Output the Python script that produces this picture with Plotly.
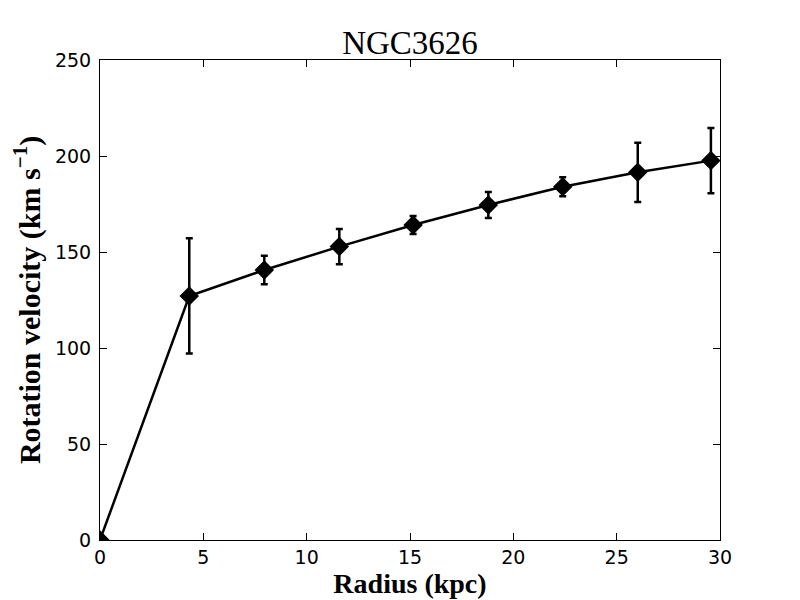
import plotly.graph_objects as go

radius = [0.0, 4.32, 7.95, 11.58, 15.15, 18.79, 22.39, 26.02, 29.56]
velocity = [0.0, 127.1, 140.6, 152.8, 164.1, 174.5, 184.0, 191.5, 197.6]
vel_err = [0.0, 30.0, 7.4, 9.2, 4.7, 6.8, 4.9, 15.4, 17.0]

x_ticks = [0, 5, 10, 15, 20, 25, 30]
y_ticks = [0, 50, 100, 150, 200, 250]

fig = go.Figure()
fig.add_trace(go.Scatter(
    x=radius, y=velocity,
    mode="lines+markers",
    line=dict(color="black", width=2.5),
    marker=dict(symbol="diamond", size=15, color="black"),
    error_y=dict(type="data", array=vel_err, visible=True, color="black", thickness=2.5, width=3.5),
    showlegend=False,
))

serif = "Liberation Serif, DejaVu Serif, serif"
fig.update_layout(
    width=800, height=600,
    paper_bgcolor="white", plot_bgcolor="white",
    margin=dict(l=92, r=88, t=52, b=68),
    title=dict(text="NGC3626", x=(92 + 310) / 800, xanchor="center", y=1 - 34/600, yanchor="middle",
               font=dict(family=serif, size=33, color="black")),
    font=dict(family="DejaVu Sans", size=19, color="black"),
)
axis_common = dict(
    showline=True, linecolor="black", linewidth=1, mirror="ticks",
    ticks="inside", ticklen=7, tickwidth=1, tickcolor="black",
    showgrid=False, zeroline=False, automargin=False,
    tickfont=dict(family="DejaVu Sans", size=19, color="black"),
)
fig.update_xaxes(range=[0, 30], tickvals=x_ticks, ticktext=[str(v) for v in x_ticks],
                 title=dict(text="<b>Radius (kpc)</b>", font=dict(family=serif, size=28, color="black"), standoff=6),
                 **axis_common)
fig.update_yaxes(range=[0, 250], tickvals=y_ticks, ticktext=[str(v) for v in y_ticks],
                 ticklabelstandoff=4,
                 title=dict(text="<b>Rotation velocity (km s<sup>−1</sup>)</b>", font=dict(family=serif, size=30, color="black"), standoff=16),
                 **axis_common)

fig.write_html("out.html")
